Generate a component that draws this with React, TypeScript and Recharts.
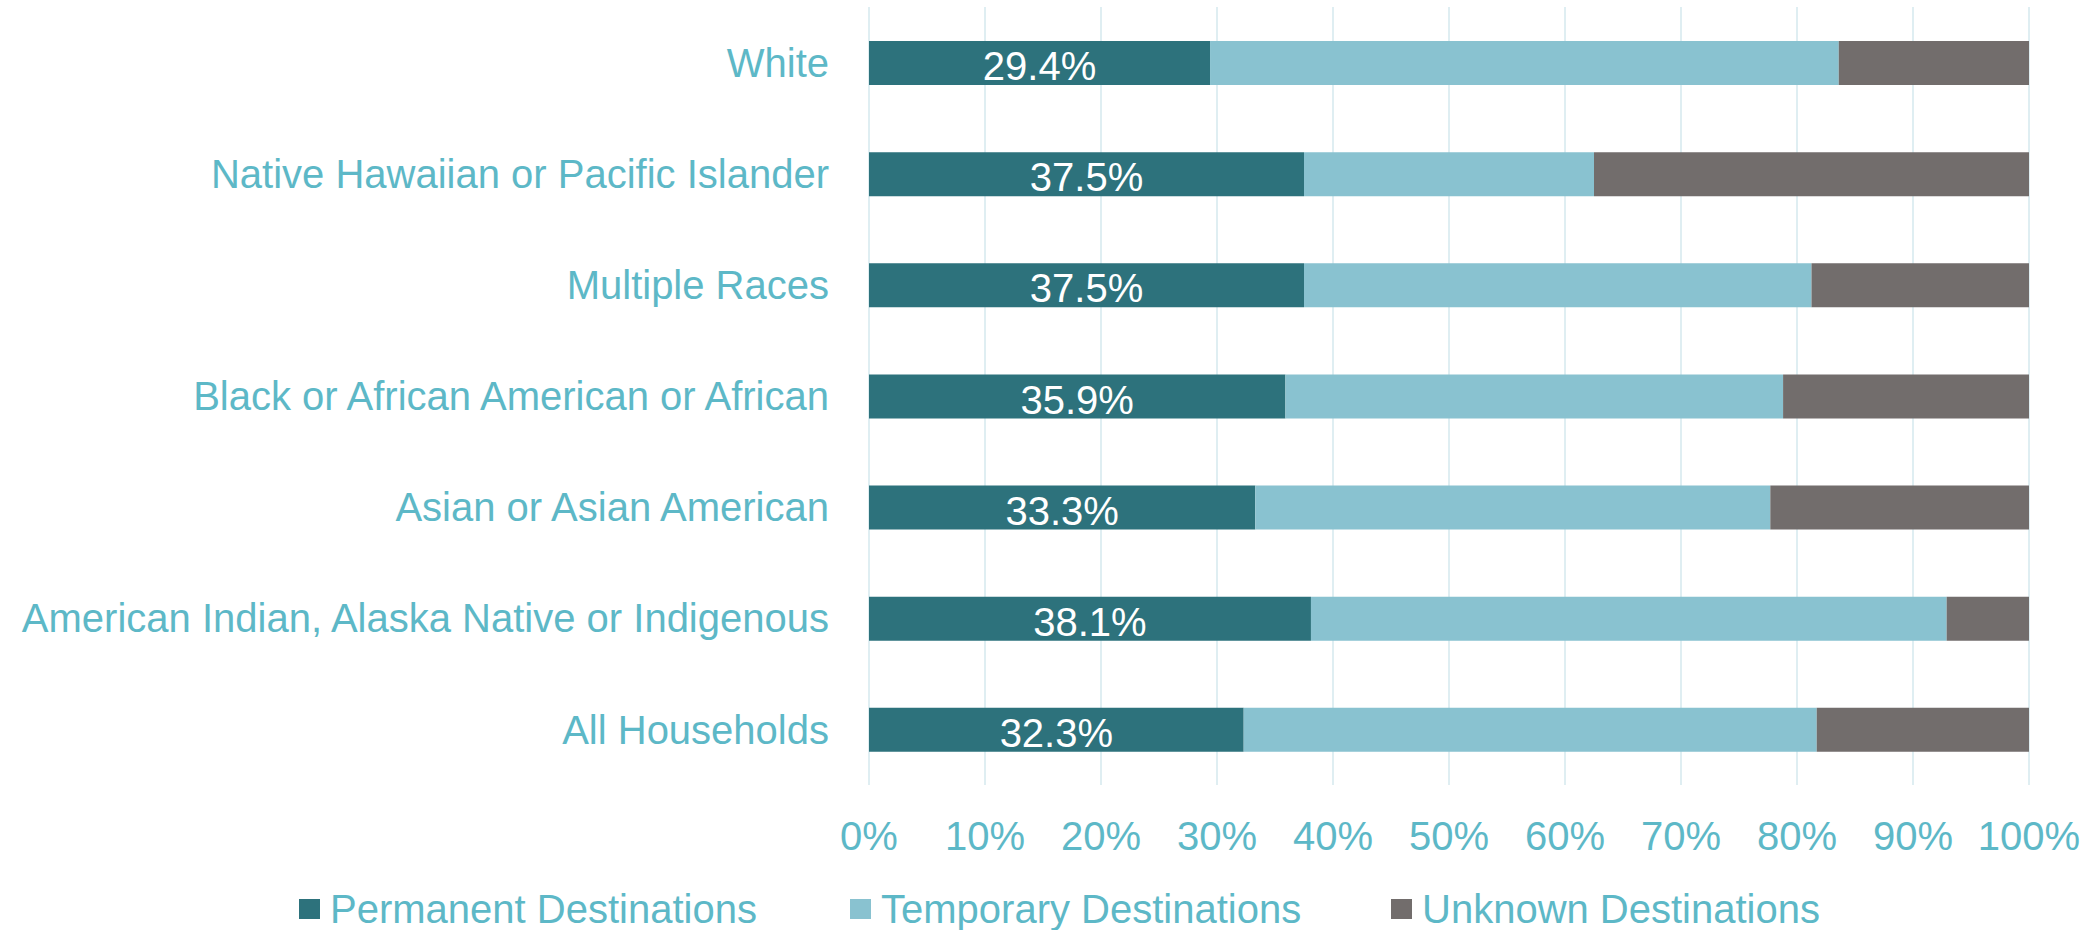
import React from 'react';
import { BarChart, Bar, XAxis, YAxis, CartesianGrid, Legend, LabelList } from 'recharts';

const groups = [
  'White',
  'Native Hawaiian or Pacific Islander',
  'Multiple Races',
  'Black or African American or African',
  'Asian or Asian American',
  'American Indian, Alaska Native or Indigenous',
  'All Households',
];
const permanent = [29.4, 37.5, 37.5, 35.9, 33.3, 38.1, 32.3];
const temporary = [54.2, 25.0, 43.75, 42.9, 44.4, 54.8, 49.4];
const unknown = [16.4, 37.5, 18.75, 21.2, 22.3, 7.1, 18.3];
const xTicks = [0, 10, 20, 30, 40, 50, 60, 70, 80, 90, 100];

const FONT = '"Liberation Sans", Arial, sans-serif';
const TEXT = '#5db8c7';
const C_PERM = '#2d727c';
const C_TEMP = '#89c2d0';
const C_UNK = '#726d6c';
const GRID = '#d5e9ee';

const series = [
  { key: 'Permanent', name: 'Permanent Destinations', color: C_PERM, w: 551 },
  { key: 'Temporary', name: 'Temporary Destinations', color: C_TEMP, w: 541 },
  { key: 'Unknown', name: 'Unknown Destinations', color: C_UNK, w: 460 },
];

const rows = groups.map((name, i) => ({
  name,
  Permanent: permanent[i],
  Temporary: temporary[i],
  Unknown: unknown[i],
}));

function LegendBox() {
  return (
    <div style={{ display: 'flex', alignItems: 'center', fontFamily: FONT }}>
      {series.map((s) => (
        <div key={s.key} style={{ width: s.w, display: 'flex', alignItems: 'center' }}>
          <span style={{ width: 21, height: 20, background: s.color, marginRight: 10, display: 'inline-block' }} />
          <span style={{ fontSize: 40, lineHeight: '40px', color: TEXT, whiteSpace: 'nowrap' }}>{s.name}</span>
        </div>
      ))}
    </div>
  );
}

export default function App() {
  return (
    <div style={{ position: 'absolute', left: 0, top: 0, fontFamily: FONT }}>
      <BarChart
        width={2096}
        height={930}
        data={rows}
        layout="vertical"
        margin={{ top: 7, right: 67, left: 0, bottom: 0 }}
      >
        <CartesianGrid horizontal={false} stroke={GRID} strokeWidth={1.5} />
        <XAxis
          type="number"
          domain={[0, 100]}
          allowDataOverflow
          ticks={xTicks}
          tickFormatter={(v) => `${v}%`}
          axisLine={false}
          tickLine={false}
          tickSize={0}
          tickMargin={37}
          height={145}
          interval={0}
          tick={{ fill: TEXT, fontSize: 40, fontFamily: FONT }}
        />
        <YAxis
          type="category"
          dataKey="name"
          width={869}
          axisLine={false}
          tickLine={false}
          tickSize={0}
          tickMargin={40}
          interval={0}
          tick={{ fill: TEXT, fontSize: 40, fontFamily: FONT }}
        />
        <Legend
          layout="horizontal"
          verticalAlign="middle"
          align="center"
          wrapperStyle={{ position: 'absolute', left: 299, top: 889, width: 1700, height: 40 }}
          content={() => <LegendBox />}
        />
        {series.map((s) => (
          <Bar key={s.key} dataKey={s.key} name={s.name} stackId="a" fill={s.color} barSize={44} isAnimationActive={false}>
            {s.key === 'Permanent' && (
              <LabelList
                dataKey="Permanent"
                position="center"
                dy={3}
                formatter={(v: any) => `${Number(v).toFixed(1)}%`}
                style={{ fill: '#ffffff', fontSize: 40, fontFamily: FONT }}
              />
            )}
          </Bar>
        ))}
      </BarChart>
    </div>
  );
}
